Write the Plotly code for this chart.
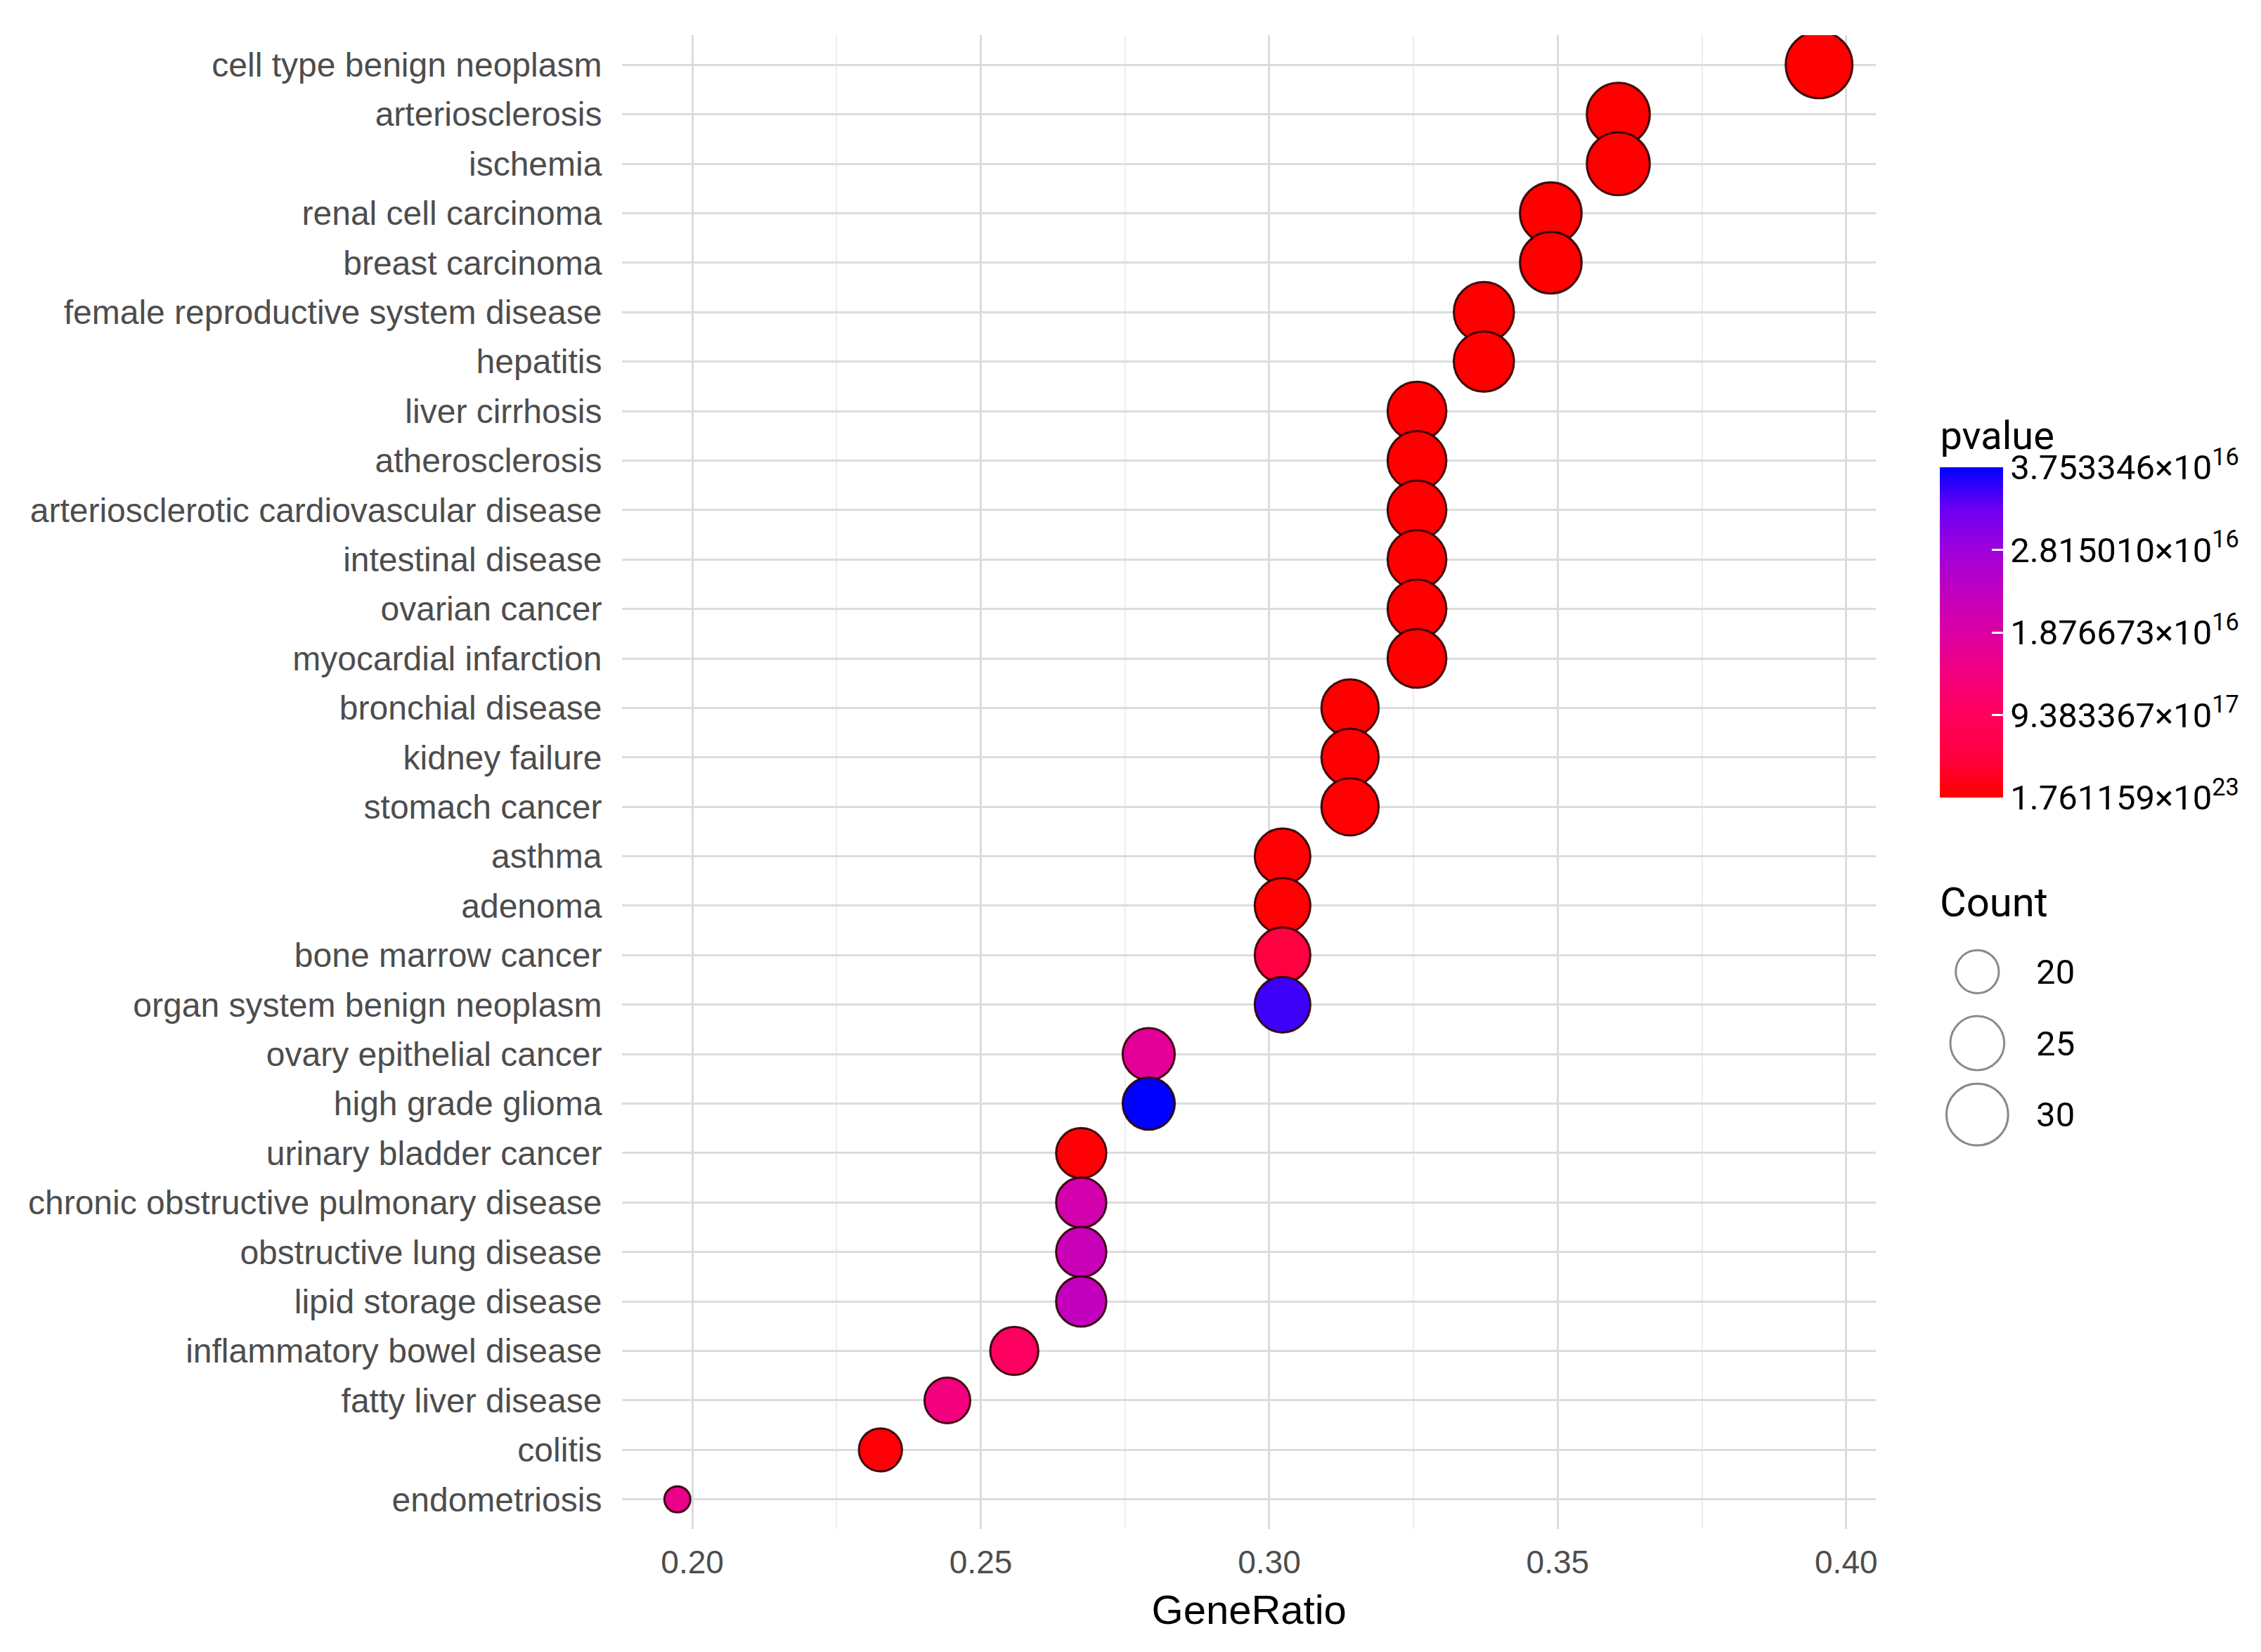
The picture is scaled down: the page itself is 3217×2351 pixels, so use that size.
import plotly.graph_objects as go
import numpy as np

# ---------------- data ----------------
diseases = [
    "cell type benign neoplasm", "arteriosclerosis", "ischemia",
    "renal cell carcinoma", "breast carcinoma",
    "female reproductive system disease", "hepatitis", "liver cirrhosis",
    "atherosclerosis", "arteriosclerotic cardiovascular disease",
    "intestinal disease", "ovarian cancer", "myocardial infarction",
    "bronchial disease", "kidney failure", "stomach cancer", "asthma",
    "adenoma", "bone marrow cancer", "organ system benign neoplasm",
    "ovary epithelial cancer", "high grade glioma", "urinary bladder cancer",
    "chronic obstructive pulmonary disease", "obstructive lung disease",
    "lipid storage disease", "inflammatory bowel disease",
    "fatty liver disease", "colitis", "endometriosis",
]
gene_ratio = [
    0.3953, 0.3605, 0.3605, 0.3488, 0.3488, 0.3372, 0.3372, 0.3256,
    0.3256, 0.3256, 0.3256, 0.3256, 0.3256, 0.3140, 0.3140, 0.3140,
    0.3023, 0.3023, 0.3023, 0.3023, 0.2791, 0.2791, 0.2674, 0.2674,
    0.2674, 0.2674, 0.2558, 0.2442, 0.2326, 0.1974,
]
counts = [
    34, 31, 31, 30, 30, 29, 29, 28, 28, 28, 28, 28, 28, 27, 27, 27,
    26, 26, 26, 26, 24, 24, 23, 23, 23, 23, 22, 21, 20, 17,
]
pvalues = [
    1.761159e-23, 2.0e-21, 3.0e-21, 8.0e-21, 5.0e-21, 2.0e-20, 3.0e-20,
    1.0e-19, 1.5e-19, 2.0e-19, 3.0e-19, 4.0e-19, 6.0e-19, 1.0e-18,
    1.5e-18, 2.0e-18, 3.0e-18, 4.0e-18, 4.7e-17, 3.49e-16,
    1.73e-16, 3.753346e-16, 5.0e-18, 2.03e-16, 2.21e-16, 2.29e-16,
    9.8e-17, 1.39e-16, 6.0e-18, 1.54e-16,
]
legend_counts = [20, 25, 30]
colorbar_fracs = [0, 0.25, 0.5, 0.75, 1.0]
colorbar_labels = [
    "1.761159×10<sup>23</sup>", "9.383367×10<sup>17</sup>",
    "1.876673×10<sup>16</sup>", "2.815010×10<sup>16</sup>",
    "3.753346×10<sup>16</sup>",
]

# gradient low (red) -> high (blue), sampled from the reference colour bar
colorscale = [
    [0.000, "#FF0000"], [0.125, "#FF0040"], [0.250, "#FF005C"],
    [0.375, "#F2007E"], [0.500, "#DA00A4"], [0.625, "#C000C0"],
    [0.750, "#9E00DC"], [0.875, "#6C00F2"], [1.000, "#0000FF"],
]

cmin, cmax = min(pvalues), max(pvalues)
cmin_c, cmax_c = min(counts), max(counts)


def diam(c):
    t = (np.asarray(c, float) - cmin_c) / (cmax_c - cmin_c)
    return 37 + 58 * np.sqrt(np.clip(t, 0, None))


tickvals = [cmin + (cmax - cmin) * f for f in colorbar_fracs]

# ---------------- geometry (page pixels; page body has an 8px margin) ----------------
OFF = 8
W, H = 3217 - OFF, 2351 - OFF
ML, MR, MT, MB = 877, 0, 42, 175
PW, PH = W - ML - MR, H - MT - MB


def px_x(p):
    return (p - OFF - ML) / PW


def px_y(p):
    return 1 - (p - OFF - MT) / PH


AXFONT = "Liberation Sans, Arial, sans-serif"
LEGFONT = "Roboto, Liberation Sans, sans-serif"

fig = go.Figure()

fig.add_trace(go.Scatter(
    x=gene_ratio, y=diseases, mode="markers",
    marker=dict(
        size=diam(counts), sizemode="diameter",
        color=pvalues, colorscale=colorscale, cmin=cmin, cmax=cmax,
        line=dict(color="rgba(40,0,0,0.9)", width=3), opacity=1,
        colorbar=dict(
            title=dict(text="pvalue", side="top",
                       font=dict(size=56, color="black", family=LEGFONT)),
            tickvals=tickvals, ticktext=colorbar_labels,
            tickfont=dict(size=49, color="black", family=LEGFONT),
            ticks="inside", tickcolor="white", ticklen=16, tickwidth=3,
            thickness=90, lenmode="pixels", len=541,
            x=px_x(2762), xanchor="left",
            y=px_y(1135), yanchor="bottom",
            outlinewidth=0, xpad=0, ypad=0,
        ),
    ),
    showlegend=False, hoverinfo="x+y",
))

# size legend drawn on its own small axes
fig.add_trace(go.Scatter(
    x=[0.5] * len(legend_counts), y=[str(c) for c in legend_counts],
    mode="markers", xaxis="x2", yaxis="y2",
    marker=dict(size=diam(legend_counts), sizemode="diameter",
                color="white", line=dict(color="#5A5A5A", width=3)),
    showlegend=False, hoverinfo="skip",
))

fig.update_layout(
    width=W, height=H,
    margin=dict(l=ML, r=MR, t=MT, b=MB),
    paper_bgcolor="white", plot_bgcolor="white",
    font=dict(family=AXFONT),
    xaxis=dict(
        domain=[0, px_x(2671)],
        range=[0.1878, 0.4052],
        tickvals=[0.20, 0.25, 0.30, 0.35, 0.40],
        ticktext=["0.20", "0.25", "0.30", "0.35", "0.40"],
        tickfont=dict(size=46, color="#4D4D4D"),
        ticks="outside", ticklen=7, tickcolor="rgba(0,0,0,0)",
        showgrid=True, gridcolor="#DCDCDC", gridwidth=2.5,
        minor=dict(tickvals=[0.225, 0.275, 0.325, 0.375],
                   showgrid=True, gridcolor="#EDEDED", gridwidth=1.5),
        zeroline=False, showline=False,
        title=dict(text="GeneRatio", font=dict(size=58, color="black"),
                   standoff=22),
    ),
    yaxis=dict(
        type="category", categoryorder="array",
        categoryarray=list(reversed(diseases)),
        range=[-0.6, len(diseases) - 0.4],
        tickfont=dict(size=48, color="#4D4D4D"),
        ticks="outside", ticklen=18, tickcolor="rgba(0,0,0,0)",
        showgrid=True, gridcolor="#DCDCDC", gridwidth=2.5,
        zeroline=False, showline=False,
    ),
    xaxis2=dict(
        domain=[px_x(2760), px_x(2870)], range=[0, 1], anchor="y2",
        visible=False, fixedrange=True,
    ),
    yaxis2=dict(
        domain=[px_y(1637), px_y(1332)], anchor="x2", side="right",
        type="category", categoryorder="array",
        categoryarray=[str(c) for c in reversed(legend_counts)],
        range=[-0.5, len(legend_counts) - 0.5],
        tickfont=dict(size=49, color="black", family=LEGFONT),
        ticks="outside", ticklen=18, tickcolor="rgba(0,0,0,0)",
        showgrid=False, zeroline=False, showline=False, fixedrange=True,
    ),
    annotations=[dict(
        text="Count", xref="paper", yref="paper",
        x=px_x(2760), y=px_y(1284), xanchor="left", yanchor="middle",
        showarrow=False, font=dict(size=58, color="black", family=LEGFONT),
    )],
)

fig.write_html("out.html")
